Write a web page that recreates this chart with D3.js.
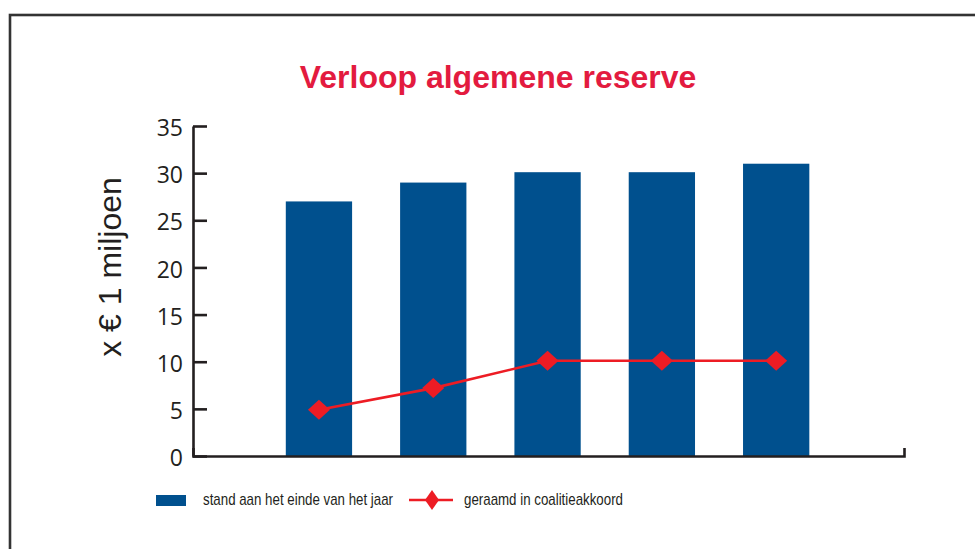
<!DOCTYPE html>
<html>
<head>
  <meta charset="utf-8">
  <script src="https://d3js.org/d3.v7.min.js"></script>
  <style>
    body {
      margin: 0;
      background: #fff;
      font-family: "Liberation Sans", Arial, Helvetica, sans-serif;
    }

    .axis path,
    .axis line {
      fill: none;
      stroke: #231f20;
      stroke-width: 2.6px;
    }

    .axis text {
      font-family: "Open Sans", sans-serif;
      font-size: 23px;
      fill: #231f20;
    }
  </style>
</head>
<body>
  <script>
    // data (no year labels are shown on the x axis)
    var jaren = ["jaar 1", "jaar 2", "jaar 3", "jaar 4", "jaar 5"];
    var stand = [27, 29, 30.1, 30.1, 31];
    var geraamd = [4.9, 7.2, 10.1, 10.1, 10.1];
    var yTicks = [0, 5, 10, 15, 20, 25, 30, 35];

    var W = 975, H = 549;
    var plotLeft = 193, plotRight = 904, plotTop = 126, plotBottom = 456;

    var barColor = "#00508e";
    var lineColor = "#ed1c24";
    var titleColor = "#e31b3f";

    var svg = d3.select("body").append("svg")
      .attr("width", W)
      .attr("height", H);

    // outer frame, runs off the right and bottom edge
    svg.append("rect")
      .attr("x", 10)
      .attr("y", 15)
      .attr("width", W + 20)
      .attr("height", H + 20)
      .attr("fill", "none")
      .attr("stroke", "#333")
      .attr("stroke-width", 2.6);

    svg.append("text")
      .attr("x", 498)
      .attr("y", 88)
      .attr("text-anchor", "middle")
      .style("font-size", "32px")
      .style("font-weight", "bold")
      .style("fill", titleColor)
      .text("Verloop algemene reserve");

    var x = d3.scaleBand()
      .domain(jaren)
      .range([plotLeft, plotRight])
      .paddingInner(0.42)
      .paddingOuter(0.82)
      .align(0.495);

    var y = d3.scaleLinear()
      .domain([0, 35])
      .range([plotBottom, plotTop]);

    // bars
    svg.selectAll(".bar")
      .data(stand)
      .enter().append("rect")
      .attr("class", "bar")
      .attr("x", function (d, i) { return x(jaren[i]); })
      .attr("width", x.bandwidth())
      .attr("y", function (d) { return y(d); })
      .attr("height", function (d) { return y(0) - y(d); })
      .attr("fill", barColor);

    // y axis, ticks point inward
    svg.append("g")
      .attr("class", "y axis")
      .attr("transform", "translate(" + plotLeft + ",0)")
      .call(d3.axisLeft(y).tickValues(yTicks).tickSizeInner(-14).tickSizeOuter(0).tickPadding(10))
      .selectAll("text")
      .attr("dy", "0.42em");

    // x axis, only the line with a small tick up at the end
    var xLine = d3.scaleLinear().range([plotLeft, plotRight]);
    svg.append("g")
      .attr("class", "x axis")
      .attr("transform", "translate(0," + plotBottom + ")")
      .call(d3.axisBottom(xLine).tickValues([]).tickSizeOuter(-8));

    // line with diamonds
    var line = d3.line()
      .x(function (d, i) { return x(jaren[i]) + x.bandwidth() / 2; })
      .y(function (d) { return y(d); });

    svg.append("path")
      .datum(geraamd)
      .attr("d", line)
      .attr("fill", "none")
      .attr("stroke", lineColor)
      .attr("stroke-width", 2.6);

    svg.selectAll(".diamond")
      .data(geraamd)
      .enter().append("path")
      .attr("class", "diamond")
      .attr("d", "M-11,0L0,-10L11,0L0,10Z")
      .attr("transform", function (d, i) {
        return "translate(" + (x(jaren[i]) + x.bandwidth() / 2) + "," + y(d) + ")";
      })
      .attr("fill", lineColor);

    // y axis label
    svg.append("text")
      .attr("transform", "translate(121,267) rotate(-90)")
      .attr("text-anchor", "middle")
      .style("font-size", "32px")
      .style("fill", "#231f20")
      .text("x \u20ac 1 miljoen");

    // legend
    var lg = svg.append("g").attr("class", "legend");
    lg.append("rect")
      .attr("x", 156).attr("y", 495)
      .attr("width", 30).attr("height", 11)
      .attr("fill", barColor);
    lg.append("text")
      .attr("x", 203).attr("y", 505)
      .attr("textLength", 190)
      .attr("lengthAdjust", "spacingAndGlyphs")
      .style("font-size", "17px")
      .style("fill", "#231f20")
      .text("stand aan het einde van het jaar");
    lg.append("line")
      .attr("x1", 409).attr("x2", 453)
      .attr("y1", 500).attr("y2", 500)
      .attr("stroke", lineColor)
      .attr("stroke-width", 2.6);
    lg.append("path")
      .attr("d", "M-7,0L0,-10L7,0L0,10Z")
      .attr("transform", "translate(432,500)")
      .attr("fill", lineColor);
    lg.append("text")
      .attr("x", 464).attr("y", 505)
      .attr("textLength", 159)
      .attr("lengthAdjust", "spacingAndGlyphs")
      .style("font-size", "17px")
      .style("fill", "#231f20")
      .text("geraamd in coalitieakkoord");
  </script>
</body>
</html>
